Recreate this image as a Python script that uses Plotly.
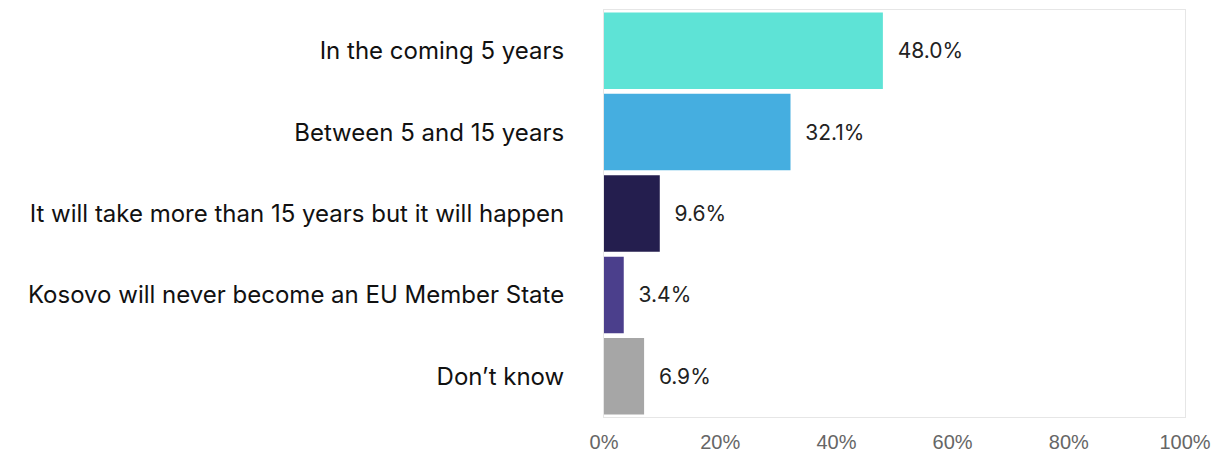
import plotly.graph_objects as go

categories = [
    "In the coming 5 years",
    "Between 5 and 15 years",
    "It will take more than 15 years but it will happen",
    "Kosovo will never become an EU Member State",
    "Don’t know",
]
values = [48.0, 32.1, 9.6, 3.4, 6.9]
colors = ["#5EE3D6", "#45AEE0", "#241E4E", "#4B3F8C", "#A6A6A6"]
tick_vals = [0, 20, 40, 60, 80, 100]
tick_text = ["0%", "20%", "40%", "60%", "80%", "100%"]

fig = go.Figure(
    go.Bar(
        x=values,
        y=categories,
        orientation="h",
        marker=dict(color=colors, line=dict(width=0)),
        text=[f"{v:.1f}%" for v in values],
        textposition="outside",
        texttemplate="  %{text}",
        textfont=dict(family="Inter, Liberation Sans, Arial", size=21, color="#222222"),
        cliponaxis=False,
        width=0.94,
    )
)

# page body has an 8px margin, so the figure is sized/offset to compensate
fig.update_layout(
    width=1211,
    height=446,
    margin=dict(l=596, r=34, t=1, b=36),
    plot_bgcolor="white",
    paper_bgcolor="white",
    showlegend=False,
    bargap=0.06,
    uniformtext=dict(mode=False),
    xaxis=dict(
        range=[0, 100],
        tickvals=tick_vals,
        ticktext=tick_text,
        showgrid=False,
        zeroline=False,
        showline=True,
        mirror=True,
        linecolor="#E6E6E6",
        linewidth=1,
        ticks="",
        ticklabelstandoff=7,
        tickfont=dict(family="Liberation Sans, Arial", size=20, color="#666666"),
    ),
    yaxis=dict(
        autorange="reversed",
        showgrid=False,
        zeroline=False,
        showline=True,
        mirror=True,
        linecolor="#E6E6E6",
        linewidth=1,
        ticks="",
        ticklabelstandoff=34,
        tickfont=dict(family="Inter, Lato, sans-serif", size=24, color="#111111"),
    ),
)

fig.write_html("out.html")
